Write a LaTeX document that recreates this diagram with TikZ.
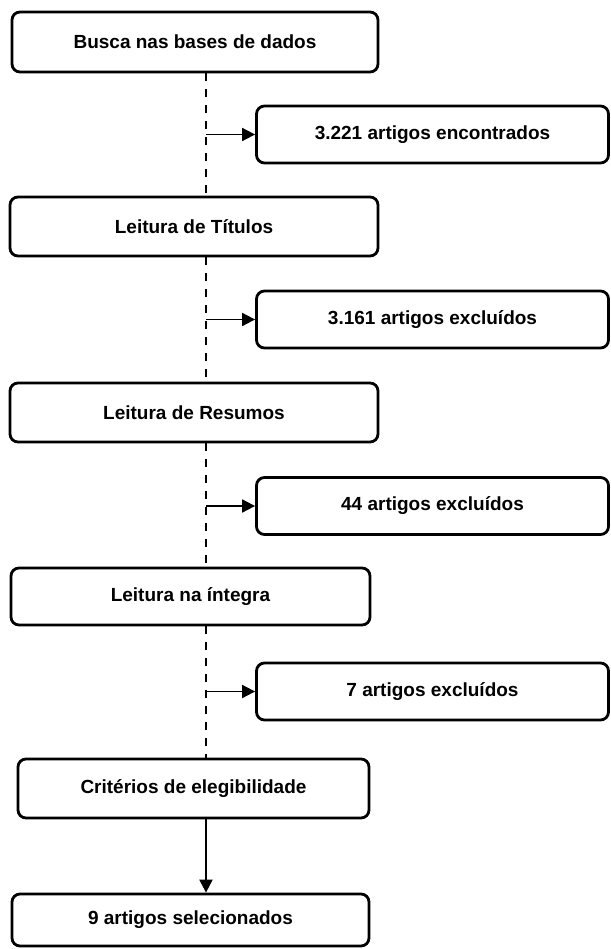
\documentclass[tikz,border=0pt]{standalone}
\usepackage{fontspec}
\setmainfont{Liberation Sans}
\usetikzlibrary{arrows.meta}

\tikzset{
  caixa/.style={draw,line width=2.8pt,rounded corners=8pt,inner sep=0pt,
    font=\fontsize{19}{22}\selectfont\bfseries},
  tracejado/.style={line width=1.4pt,dash pattern=on 8pt off 8pt},
  seta/.style={line width=1.8pt,-{Triangle[length=13pt,width=13pt]}}
}

\begin{document}
\begin{tikzpicture}[x=1pt, y=-1pt]
    \useasboundingbox (0,0) rectangle (610,949);
    \coordinate (eixo) at (206,0);

    % etapas da coluna esquerda
    \foreach \nome/\cx/\cy/\lx/\ly/\texto in {
        busca/195/42/366/60/{Busca nas bases de dados},
        titulos/194/226.5/368/59/{Leitura de Títulos},
        resumos/194/412.5/368/59/{Leitura de Resumos},
        integra/190.5/596.5/359/57/{Leitura na íntegra},
        criterios/193.5/788.5/351/59/{Critérios de elegibilidade},
        selecionados/190.5/920/357/52/{9 artigos selecionados}}{
      \node[caixa,minimum width=\lx pt,minimum height=\ly pt] (\nome) at (\cx,\cy) {\texto};
    }

    % resultados da coluna direita
    \foreach \nome/\cy/\texto in {
        encontrados/134.5/{3.221 artigos encontrados},
        excl1/319.5/{3.161 artigos excluídos},
        excl2/506/{44 artigos excluídos},
        excl3/691.5/{7 artigos excluídos}}{
      \node[caixa,minimum width=352pt,minimum height=57pt] (\nome) at (432.5,\cy) {\texto};
    }

    % linha tracejada
    \foreach \de/\para in {busca/titulos,titulos/resumos,resumos/integra,integra/criterios}{
      \draw[tracejado] (\de.south -| eixo) -- (\para.north -| eixo);
    }

    \foreach \alvo in {encontrados,excl1,excl2,excl3}{
      \draw[seta] (\alvo.west -| eixo) -- (\alvo.west);
    }

    \draw[seta,line width=2.2pt] (criterios.south -| eixo) -- (selecionados.north -| eixo);

\end{tikzpicture}
\end{document}
